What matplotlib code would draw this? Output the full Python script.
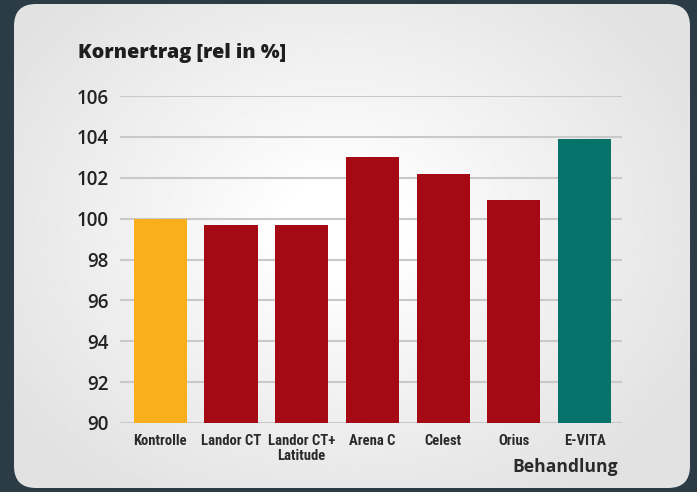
import numpy as np
import matplotlib.pyplot as plt
from matplotlib.patches import FancyBboxPatch
from matplotlib import font_manager

# Daten
behandlung = ["Kontrolle", "Landor CT", "Landor CT+\nLatitude", "Arena C", "Celest", "Orius", "E-VITA"]
kornertrag = [100.0, 99.7, 99.7, 103.0, 102.2, 100.9, 103.9]
farben = ["#f9ae1b", "#a50a14", "#a50a14", "#a50a14", "#a50a14", "#a50a14", "#06736a"]
y_ticks = [90, 92, 94, 96, 98, 100, 102, 104, 106]

# schmale Schrift fuer die Kategorien suchen
schmal = None
for fam in ["Roboto Condensed", "Liberation Sans Narrow", "Open Sans Condensed", "DejaVu Sans", "Roboto"]:
    fp = font_manager.FontProperties(family=fam, weight="bold", stretch="condensed")
    try:
        pfad = font_manager.findfont(fp, fallback_to_default=False)
    except Exception:
        continue
    low = pfad.lower()
    if "condensed" in low or "narrow" in low:
        schmal = font_manager.FontProperties(fname=pfad)
        break
if schmal is None:
    schmal = font_manager.FontProperties(family="Roboto", weight="bold")
    x_size = 9.3
else:
    x_size = 10.5
schmal.set_size(x_size)

fig = plt.figure(figsize=(6.97, 4.92), dpi=100)
fig.patch.set_facecolor("#2b3c46")

# Karte mit radialem Verlauf
bg = fig.add_axes([0, 0, 1, 1])
bg.set_xlim(0, 697)
bg.set_ylim(492, 0)
bg.axis("off")
karte = FancyBboxPatch((14, 4), 676, 484, boxstyle="round,pad=0,rounding_size=22",
                       facecolor="none", edgecolor="none")
bg.add_patch(karte)
xx, yy = np.meshgrid(np.linspace(0, 697, 350), np.linspace(0, 492, 250))
d = np.sqrt(((xx - 340) / 400) ** 2 + ((yy - 230) / 320) ** 2)
d = np.clip((d - 0.15) / 0.85, 0, 1)
img = bg.imshow(1 - 0.115 * d ** 0.9, cmap="gray", vmin=0, vmax=1, extent=(0, 697, 492, 0),
                aspect="auto", interpolation="bilinear")
img.set_clip_path(karte)

ax = fig.add_axes([120 / 697, 1 - 423 / 492, 502 / 697, 327 / 492])
ax.patch.set_alpha(0)
x = np.arange(len(behandlung))
ax.bar(x, np.array(kornertrag) - 90, bottom=90, width=0.75, color=farben, zorder=3)
ax.set_ylim(90, 106)
ax.set_xlim(-0.57, 6.53)
ax.set_yticks(y_ticks)
ax.yaxis.grid(True, color="#c9c9c9", linewidth=1.5, zorder=0)
ax.set_axisbelow(True)
for s in ax.spines.values():
    s.set_visible(False)
ax.tick_params(length=0)
ax.tick_params(axis="y", pad=8)
ax.tick_params(axis="x", pad=8)
ax.set_yticklabels([str(t) for t in y_ticks], fontfamily="Open Sans", fontweight="semibold",
                   fontsize=13.5, color="#222222")
ax.set_xticks(x)
ax.set_xticklabels(behandlung, fontproperties=schmal, color="#2a2a2a", linespacing=1.1)

fig.text(78 / 697, 1 - 53 / 492, "Kornertrag [rel in %]", fontfamily="Open Sans",
         fontweight="heavy", fontsize=14.3, color="#1e1e1e", va="center")
fig.text(618 / 697, 1 - 467 / 492, "Behandlung", fontfamily="Open Sans",
         fontweight="bold", fontsize=12.6, color="#2a2a2a", va="center", ha="right")

fig.savefig("out.png", dpi=100, facecolor=fig.get_facecolor())
